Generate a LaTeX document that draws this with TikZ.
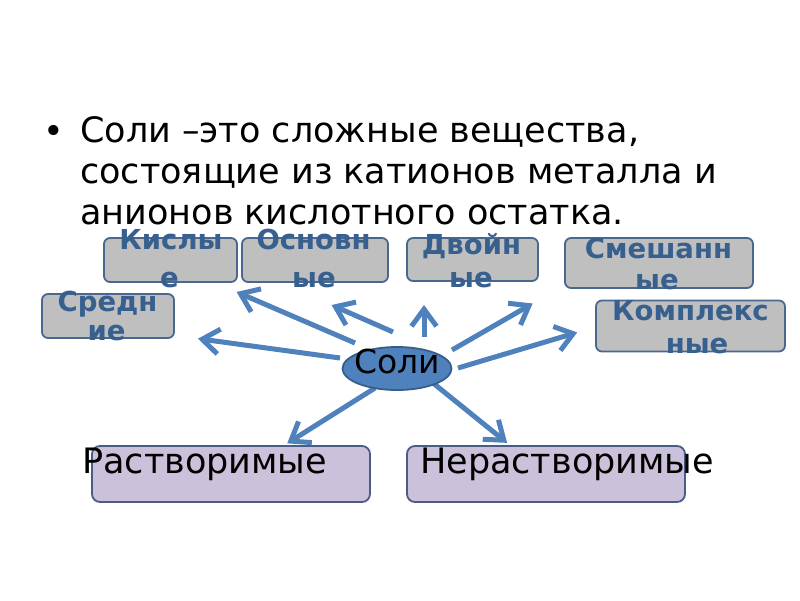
\documentclass[tikz,border=0pt]{standalone}
\usepackage{fontspec}
\setmainfont{DejaVu Sans}
\usetikzlibrary{arrows.meta,calc,shapes.geometric}
\definecolor{arrowblue}{HTML}{4F81BD}
\definecolor{ellipseedge}{HTML}{385D8A}
\definecolor{boxgray}{HTML}{BFBFBF}
\definecolor{boxedge}{HTML}{4A6790}
\definecolor{lavender}{HTML}{CCC1DA}
\definecolor{lavedge}{HTML}{4A5C88}
\definecolor{lbltext}{HTML}{37608F}
\begin{document}
\begin{tikzpicture}[x=1pt,y=-1pt,
  graybox/.style={draw=boxedge, line width=1.8pt, fill=boxgray, rounded corners=6pt, inner sep=0pt},
  lavbox/.style={draw=lavedge, line width=1.8pt, fill=lavender, rounded corners=8pt, inner sep=0pt},
  lbl/.style={anchor=base, inner sep=0pt, text=lbltext, font=\fontsize{27.5}{30}\selectfont\bfseries},
  bigtext/.style={anchor=base west, inner sep=0pt, font=\fontsize{35}{41}\selectfont},
  conn/.style={draw=arrowblue, line width=5pt, -{Straight Barb[length=17pt,width=25pt,sep=5pt]}}
]
\useasboundingbox[fill=white] (0,0) rectangle (800,600);

% title
\node[bigtext] (bullet) at (43,143) {•};
\node[bigtext, align=left, text depth=0pt] (title) at (80,224) {Соли –это сложные вещества,\\состоящие из катионов металла и\\анионов кислотного остатка.};

% boxes
\node[graybox, minimum width=133, minimum height=44] (kisl) at (170.5,260) {};
\node[graybox, minimum width=146, minimum height=44] (osn) at (315,260) {};
\node[graybox, minimum width=131, minimum height=43] (dvoi) at (472.5,259.5) {};
\node[graybox, minimum width=188, minimum height=50] (smesh) at (659,263) {};
\node[graybox, minimum width=132, minimum height=44] (sred) at (108,316) {};
\node[graybox, minimum width=189, minimum height=51] (kompl) at (690.5,326) {};
\node[lavbox, minimum width=278, minimum height=56] (rastv) at (231,474) {};
\node[lavbox, minimum width=278, minimum height=56] (nerastv) at (546,474) {};

% connector ends
\coordinate (s1) at (340,358); \coordinate (t1) at (193,338);
\coordinate (s2) at (355,343); \coordinate (t2) at (232,290);
\coordinate (s3) at (393,332); \coordinate (t3) at (327,303);
\coordinate (s4) at (424,337); \coordinate (t4) at (424,300);
\coordinate (s5) at (452,350); \coordinate (t5) at (537,301);
\coordinate (s6) at (458,368); \coordinate (t6) at (582,331);
\coordinate (s7) at (375,388); \coordinate (t7) at (283,446);
\coordinate (s8) at (433,383); \coordinate (t8) at (511,446);

\foreach \i in {1,...,8} { \draw[conn] (s\i) -- (t\i); }

% central ellipse
\node[ellipse, draw=ellipseedge, line width=1.8pt, fill=arrowblue, minimum width=109, minimum height=43, inner sep=0pt,
      label={[yshift=7pt, inner sep=0pt, font=\fontsize{33}{38}\selectfont]center:Соли}] (soli) at (397,368.5) {};

% box labels
\node[lbl] (kislA) at (171,249) {Кислы};
\node[lbl] (kislB) at (169.5,287) {е};
\node[lbl] (osnA) at (313.5,249) {Основн};
\node[lbl] (osnB) at (314,287) {ые};
\node[lbl] (dvoiA) at (471.5,254) {Двойн};
\node[lbl] (dvoiB) at (471,287) {ые};
\node[lbl] (smeshA) at (658.5,258) {Смешанн};
\node[lbl] (smeshB) at (657,289) {ые};
\node[lbl] (sredA) at (107.5,311) {Средн};
\node[lbl] (sredB) at (106.5,340) {ие};
\node[lbl] (komplA) at (690.5,320) {Комплекс};
\node[lbl] (komplB) at (697,353) {ные};

% bottom texts
\node[bigtext] (rastvT) at (82,473) {Растворимые};
\node[bigtext] (nerastvT) at (420,473) {Нерастворимые};
\end{tikzpicture}
\end{document}
